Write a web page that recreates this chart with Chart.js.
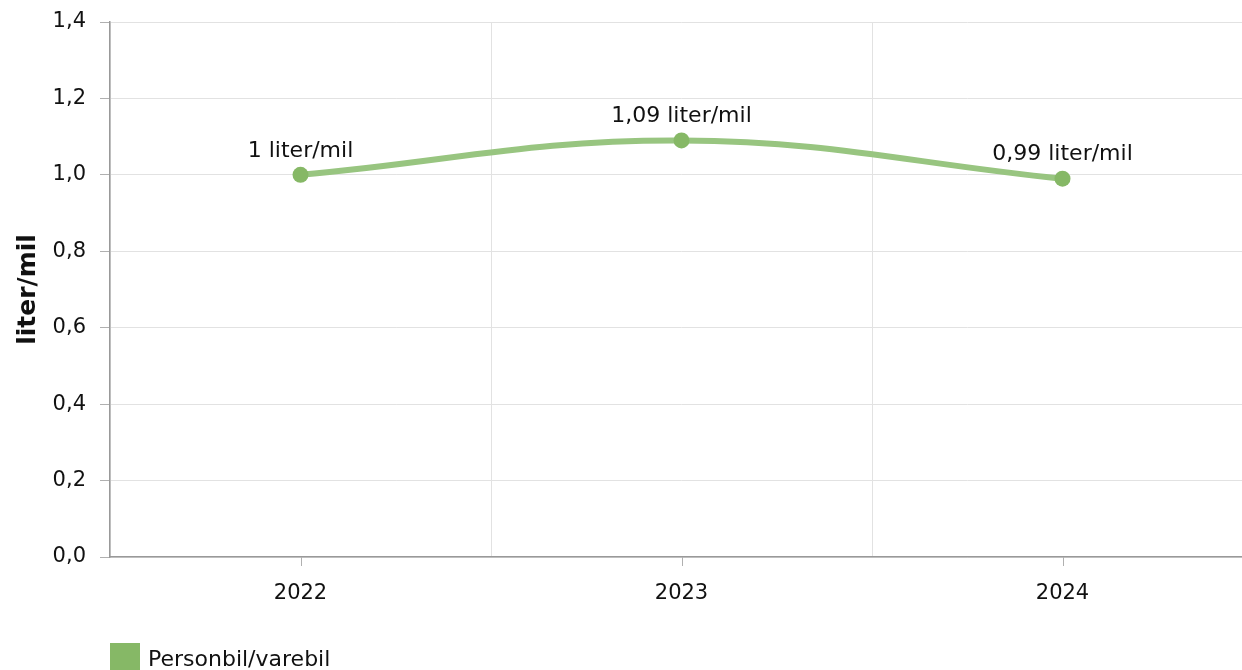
<!DOCTYPE html>
<html>
<head>
<meta charset="utf-8">
<script src="https://cdn.jsdelivr.net/npm/chart.js@4"></script>
<style>
  html, body { margin: 0; background: #fff; overflow: hidden; }
  /* plot area runs past the right edge of the window, like the original */
  #wrap { width: 1261px; height: 670px; position: relative; }
  #chart { display: block; }
</style>
</head>
<body>
<div id="wrap"><canvas id="chart"></canvas></div>
<script>
// data
const years = ['2022', '2023', '2024'];
const literPerMil = [1.0, 1.09, 0.99];
const valueLabels = ['1 liter/mil', '1,09 liter/mil', '0,99 liter/mil'];
const seriesName = 'Personbil/varebil';
const yTicks = [0, 0.2, 0.4, 0.6, 0.8, 1.0, 1.2, 1.4];

const FONT = 'DejaVu Sans, Verdana, sans-serif';
const green = '#86b866';
const lineGreen = '#98c580';

// tick marks under the category centres (grid lines sit between categories)
const catTicks = {
  id: 'catTicks',
  afterDraw(chart) {
    const ctx = chart.ctx;
    const x = chart.scales.x;
    const bottom = chart.chartArea.bottom;
    ctx.save();
    ctx.strokeStyle = '#b0b0b0';
    ctx.lineWidth = 1;
    years.forEach((y, i) => {
      const px = Math.round(x.getPixelForValue(i)) + 0.5;
      ctx.beginPath();
      ctx.moveTo(px, bottom);
      ctx.lineTo(px, bottom + 9);
      ctx.stroke();
    });
    ctx.restore();
  }
};

const pointLabels = {
  id: 'pointLabels',
  afterDatasetsDraw(chart) {
    const ctx = chart.ctx;
    const meta = chart.getDatasetMeta(0);
    ctx.save();
    ctx.font = '22px ' + FONT;
    ctx.fillStyle = '#111';
    ctx.textAlign = 'center';
    ctx.textBaseline = 'middle';
    meta.data.forEach((pt, i) => {
      ctx.fillText(valueLabels[i], pt.x, pt.y - 24);
    });
    ctx.restore();
  }
};

const legendBox = {
  id: 'legendBox',
  afterDraw(chart) {
    const ctx = chart.ctx;
    const left = chart.chartArea.left;
    ctx.save();
    ctx.fillStyle = green;
    ctx.fillRect(left, 643, 30, 30);
    ctx.font = '22px ' + FONT;
    ctx.fillStyle = '#111';
    ctx.textAlign = 'left';
    ctx.textBaseline = 'middle';
    ctx.fillText(seriesName, left + 38, 660);
    ctx.restore();
  }
};

new Chart(document.getElementById('chart'), {
  type: 'line',
  data: {
    labels: years,
    datasets: [{
      label: seriesName,
      data: literPerMil,
      borderColor: lineGreen,
      borderWidth: 6,
      tension: 0.4,
      pointRadius: 8,
      pointHoverRadius: 8,
      pointBackgroundColor: green,
      pointBorderWidth: 0
    }]
  },
  options: {
    responsive: true,
    maintainAspectRatio: false,
    animation: false,
    layout: { padding: { top: 22, right: 0, bottom: 0, left: 0 } },
    plugins: { legend: { display: false }, tooltip: { enabled: false } },
    scales: {
      x: {
        offset: true,
        grid: { offset: true, color: '#e2e2e2', drawTicks: false },
        border: { color: '#999', width: 1.5 },
        ticks: { color: '#111', font: { family: FONT, size: 21 }, padding: 24 },
        afterFit(s) { s.height = 113; s.paddingRight = 0; s.paddingLeft = 0; }
      },
      y: {
        min: 0,
        max: 1.4,
        afterBuildTicks(s) { s.ticks = yTicks.map(v => ({ value: v })); },
        grid: { color: '#e2e2e2', tickColor: '#b0b0b0', tickLength: 10 },
        border: { color: '#999', width: 1.5 },
        ticks: {
          color: '#111',
          font: { family: FONT, size: 21 },
          padding: 14,
          callback: v => v.toFixed(1).replace('.', ',')
        },
        title: {
          display: true,
          text: 'liter/mil',
          color: '#111',
          font: { family: FONT, size: 25, weight: 'bold' },
          padding: { top: 13, bottom: 0 }
        },
        afterFit(s) { s.width = 110; s.paddingTop = 0; s.paddingBottom = 0; }
      }
    }
  },
  plugins: [catTicks, pointLabels, legendBox]
});
</script>
</body>
</html>
